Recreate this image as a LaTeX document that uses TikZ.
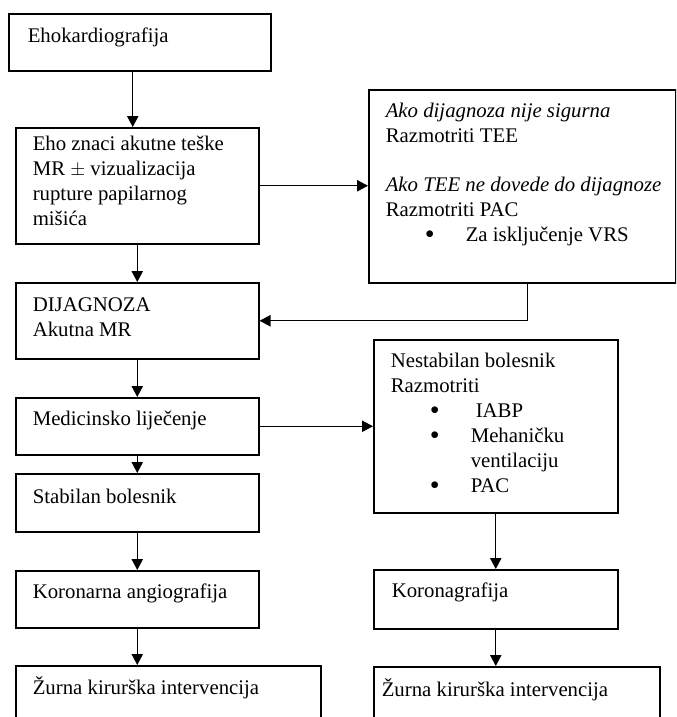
\documentclass[tikz,border=0pt]{standalone}
\usepackage{fontspec}
\setmainfont{Liberation Serif}
\usepackage{tikz}
\usetikzlibrary{arrows.meta}

\newdimen\pxu \pxu=0.75pt
% text of a box: width, height, left pad, first baseline, text
\newcommand{\boxtxt}[5]{%
  \begin{minipage}[t][#2\pxu][t]{#1\pxu}%
    \vspace*{\dimexpr #4\pxu-13.125pt\relax}%
    \raggedright\leftskip=#3\pxu\strut #5%
  \end{minipage}}
\newcommand{\bitem}[1]{\\\hspace*{39\pxu}\makebox[41\pxu][l]{\raisebox{-1.6pt}{\scalebox{1.35}{\textbullet}}}#1}

\tikzset{
  flowbox/.style={draw, line width=1.15pt, anchor=north west, inner sep=0pt},
  flowarrow/.style={draw=black, line width=0.9pt, -{Triangle[length=8.25pt,width=8.5pt]}}
}

\begin{document}
\begin{tikzpicture}[x=0.75pt, y=-0.75pt]
            \path[use as bounding box] (0,0) rectangle (676,717);
            \clip (0,0) rectangle (676,717);

            \begin{scope}[every node/.style={flowbox, font=\fontsize{15.6pt}{18.75pt}\selectfont}]
                % left column
                \node (eho) at (8,13) {\boxtxt{262}{57}{19}{29}{Ehokardiografija}};
                \node (znaci) at (15,127) {\boxtxt{243}{116}{17}{23}{Eho znaci akutne teške\\MR $\pm$ vizualizacija\\rupture papilarnog\\mišića}};
                \node (dijag) at (15,282) {\boxtxt{243}{76}{17}{29}{DIJAGNOZA\\Akutna MR}};
                \node (medic) at (15,397) {\boxtxt{243}{57}{17}{28}{Medicinsko liječenje}};
                \node (stab) at (15,473) {\boxtxt{243}{58}{17}{30}{Stabilan bolesnik}};
                \node (koron) at (15,570) {\boxtxt{243}{57}{17}{28}{Koronarna angiografija}};
                \node (zurnaL) at (15,665) {\boxtxt{305}{90}{17}{28}{Žurna kirurška intervencija}};
                % right column
                \node (tee) at (368,89) {\boxtxt{307}{193}{17}{28}{\textit{Ako dijagnoza nije sigurna}\\Razmotriti TEE\\[18pt]\textit{Ako TEE ne dovede do dijagnoze}\\Razmotriti PAC\bitem{Za isključenje VRS}}};
                \node (nestab) at (373,339) {\boxtxt{244}{173}{17}{28}{Nestabilan bolesnik\\Razmotriti\bitem{\hspace{5\pxu}IABP}\bitem{Mehaničku}\\\hspace*{80\pxu}ventilaciju\bitem{PAC}}};
                \node (koronag) at (373,569) {\boxtxt{244}{59}{18}{28}{Koronagrafija}};
                \node (zurnaR) at (373,666) {\boxtxt{286}{90}{8}{29}{Žurna kirurška intervencija}};
            \end{scope}

            \begin{scope}[every path/.style={flowarrow}]
                \path ([xshift=-3.4pt]znaci.north |- eho.south) -- ([xshift=-3.4pt]znaci.north);
                \path (znaci.south) -- (dijag.north);
                \path (dijag.south) -- (medic.north);
                \path (medic.south) -- (stab.north);
                \path (stab.south) -- (koron.north);
                \path (koron.south) -- (koron.south |- zurnaL.north);
                \path (znaci.east) -- (znaci.east -| tee.west);
                \path ([xshift=4.1pt]tee.south) |- (dijag.east);
                \path (medic.east) -- (medic.east -| nestab.west);
                \path (nestab.south) -- (koronag.north);
                \path (koronag.south) -- (koronag.south |- zurnaR.north);
            \end{scope}
        \end{tikzpicture}
\end{document}
